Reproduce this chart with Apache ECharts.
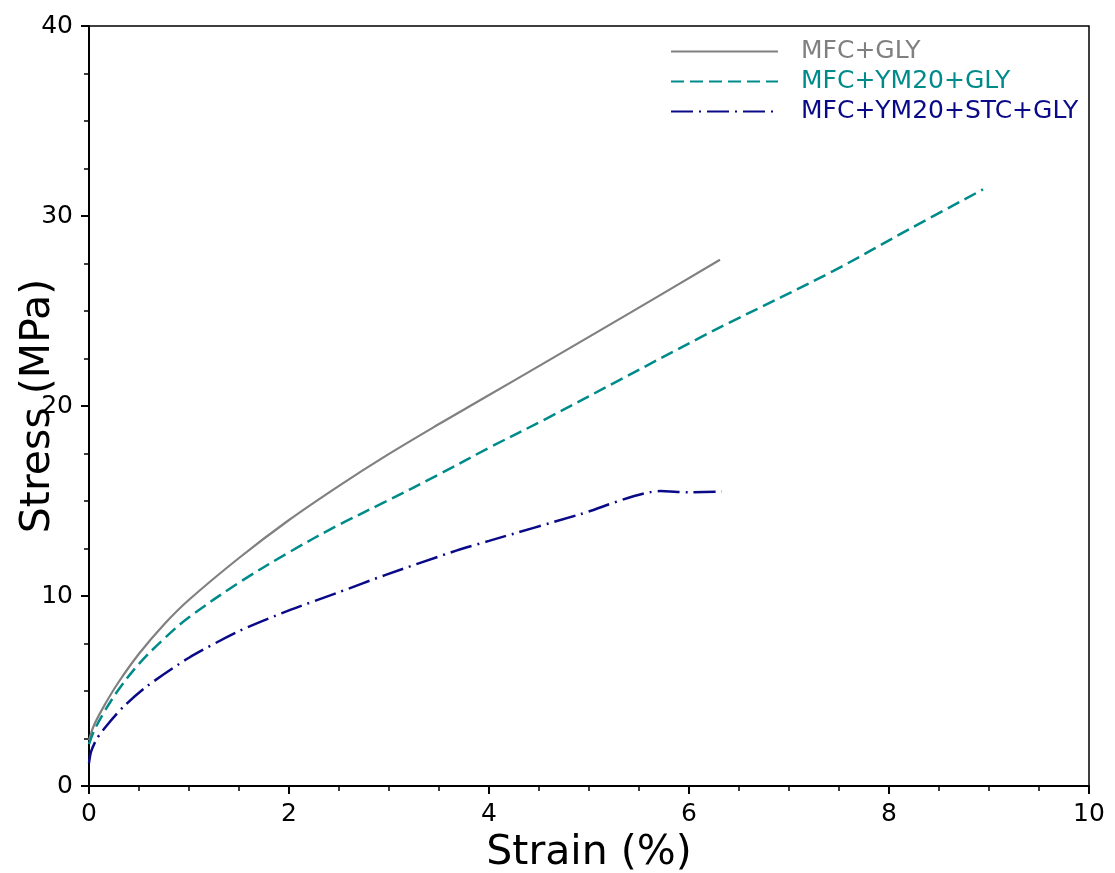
<!DOCTYPE html>
<html>
<head>
<meta charset="utf-8">
<script src="https://cdn.jsdelivr.net/npm/echarts@6/dist/echarts.min.js"></script>
<style>
html,body{margin:0;padding:0;background:#fff;}
#chart{width:1115px;height:873px;}
</style>
</head>
<body>
<div id="chart"></div>
<script>
const seriesNames = ['MFC+GLY', 'MFC+YM20+GLY', 'MFC+YM20+STC+GLY'];

const strainGly = [0, 0.05, 0.16, 0.3, 0.5, 0.75, 1.0, 1.5, 2.0, 2.5, 2.96, 3.5, 3.91, 4.58, 5.41, 6.31];
const stressGly = [2.4, 3.2, 4.3, 5.5, 6.96, 8.5, 9.8, 12.0, 14.0, 15.8, 17.35, 19.05, 20.3, 22.35, 24.9, 27.7];

const strainYm = [0, 0.05, 0.16, 0.3, 0.5, 0.75, 1.0, 1.5, 2.0, 2.5, 2.96, 3.5, 4.0, 4.58, 5.3, 6.11, 6.41, 7.44, 8.2, 8.94];
const stressYm = [2.2, 2.9, 3.97, 5.1, 6.43, 7.75, 8.88, 10.7, 12.3, 13.75, 14.95, 16.4, 17.8, 19.35, 21.35, 23.6, 24.4, 27.1, 29.3, 31.4];

const strainStc = [0, 0.02, 0.08, 0.18, 0.34, 0.58, 1.0, 1.5, 2.0, 2.5, 2.96, 3.68, 4.0, 4.91, 5.71, 6.0, 6.33];
const stressStc = [1.2, 1.8, 2.5, 3.2, 4.15, 5.25, 6.75, 8.15, 9.24, 10.2, 11.1, 12.4, 12.9, 14.3, 15.52, 15.46, 15.5];

const xTickMin = 0, xTickMax = 10, xTickStep = 2;
const yTickMin = 0, yTickMax = 40, yTickStep = 10;

const colors = ['#808080', '#008B8B', '#0a0a88'];
const FONT = 'DejaVu Sans';

function pairs(xs, ys) { return xs.map((x, i) => [x, ys[i]]); }

const chart = echarts.init(document.getElementById('chart'), null, {renderer: 'canvas'});
chart.setOption({
  animation: false,
  backgroundColor: '#fff',
  grid: {left: 89, right: 26, top: 26, bottom: 87, show: true, borderColor: '#000', borderWidth: 1.5,
         backgroundColor: 'transparent', containLabel: false, outerBoundsMode: 'none'},
  legend: {
    orient: 'vertical',
    left: 665,
    top: 34,
    itemWidth: 107,
    itemHeight: 14,
    itemGap: 5,
    itemStyle: {opacity: 0},
    textStyle: {fontFamily: FONT, fontSize: 25, padding: [0, 0, 0, 18]},
    data: seriesNames.map((n, i) => ({name: n, textStyle: {color: colors[i]}}))
  },
  xAxis: {
    type: 'value', min: xTickMin, max: xTickMax, interval: xTickStep,
    name: 'Strain (%)', nameLocation: 'middle', nameGap: 47, nameMoveOverlap: false,
    nameTextStyle: {fontFamily: FONT, fontSize: 41, color: '#000'},
    axisLine: {show: true, onZero: false, lineStyle: {color: '#000', width: 2}},
    axisTick: {show: true, inside: false, length: 8, lineStyle: {color: '#000', width: 2}},
    minorTick: {show: true, splitNumber: 4, length: 5, lineStyle: {color: '#000', width: 1.5}},
    axisLabel: {fontFamily: FONT, fontSize: 25, color: '#000', margin: 16},
    splitLine: {show: false}
  },
  yAxis: {
    type: 'value', min: yTickMin, max: yTickMax, interval: yTickStep,
    name: 'Stress (MPa)', nameLocation: 'middle', nameGap: 30, nameMoveOverlap: false,
    nameTextStyle: {fontFamily: FONT, fontSize: 41, color: '#000'},
    axisLine: {show: true, onZero: false, lineStyle: {color: '#000', width: 2}},
    axisTick: {show: true, inside: false, length: 8, lineStyle: {color: '#000', width: 2}},
    minorTick: {show: true, splitNumber: 4, length: 5, lineStyle: {color: '#000', width: 1.5}},
    axisLabel: {fontFamily: FONT, fontSize: 25, color: '#000', margin: 16},
    splitLine: {show: false}
  },
  series: [
    {name: seriesNames[0], type: 'line', data: pairs(strainGly, stressGly), symbol: 'none', smooth: 0.35,
     lineStyle: {color: colors[0], width: 2.2, type: 'solid'}, itemStyle: {color: colors[0]}},
    {name: seriesNames[1], type: 'line', data: pairs(strainYm, stressYm), symbol: 'none', smooth: 0.35,
     lineStyle: {color: colors[1], width: 2.5, type: [13, 6]}, itemStyle: {color: colors[1]}},
    {name: seriesNames[2], type: 'line', data: pairs(strainStc, stressStc), symbol: 'none', smooth: 0.25,
     lineStyle: {color: colors[2], width: 2.5, type: [22, 6, 2, 6]}, itemStyle: {color: colors[2]}}
  ]
});
</script>
</body>
</html>
